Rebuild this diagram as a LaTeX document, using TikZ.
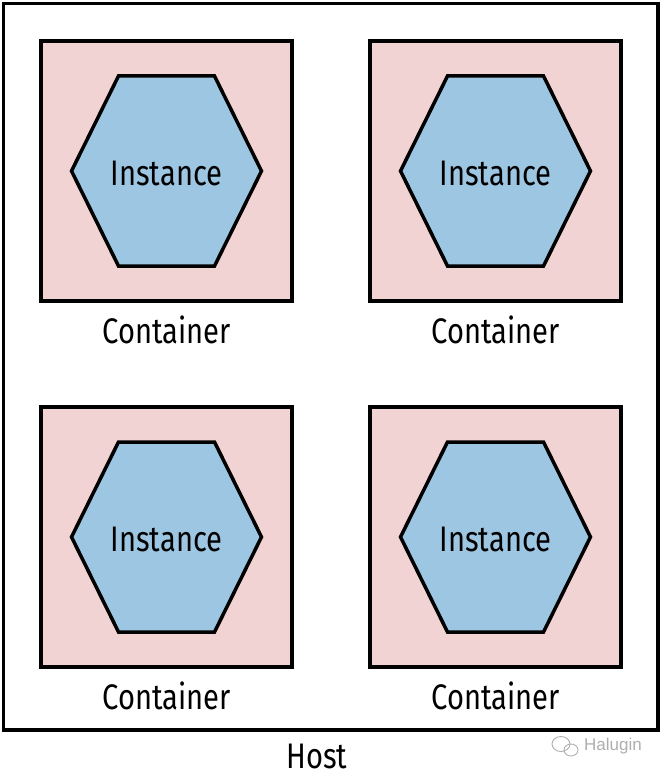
\documentclass[tikz,border=0pt]{standalone}
\usepackage{fontspec}
\setmainfont{Fira Sans}[FakeStretch=0.82]
\newfontfamily\wmfont{Liberation Sans}
\definecolor{cpink}{RGB}{242,211,212}
\definecolor{iblue}{RGB}{157,198,227}
\definecolor{wmgray}{RGB}{175,175,175}
\begin{document}
\begin{tikzpicture}[x=1pt,y=-1pt,
  hostbox/.style={draw=black,line width=3.5pt},
  contbox/.style={draw=black,fill=cpink,line width=3.5pt,minimum width=251pt,minimum height=260pt,inner sep=0pt},
  hexshape/.style={draw=black,fill=iblue,line width=3.5pt,line join=miter},
  bigtext/.style={font=\fontsize{35.5}{40}\selectfont,inner sep=0pt}]
\useasboundingbox (0,0) rectangle (663,778);
\fill[white] (0,0) rectangle (663,778);
\draw[hostbox] (3.5,3.5) rectangle (658,730);
\foreach \n/\cx/\cy in {a/166.5/171, b/495.5/171, c/166.5/537, d/495.5/537}{
  \node[contbox] (\n) at (\cx,\cy) {};
  \draw[hexshape] ([xshift=-95pt]\n.center) -- ([xshift=-48pt,yshift=95pt]\n.center) -- ([xshift=48pt,yshift=95pt]\n.center) -- ([xshift=95pt]\n.center) -- ([xshift=48pt,yshift=-95pt]\n.center) -- ([xshift=-48pt,yshift=-95pt]\n.center) -- cycle;
  \node[bigtext] (\n i) at ([yshift=-2pt]\n.center) {Instance};
  \node[bigtext,anchor=north] (\n l) at ([yshift=-13pt]\n.south) {Container};
}
\node[bigtext] (host) at (317,756) {Host};
\node[font=\wmfont\fontsize{17}{20}\selectfont,text=wmgray,anchor=west,inner sep=0pt] (wm) at (584,746) {Halugin};
\draw[wmgray,line width=0.9pt] (561,744) ellipse (9pt and 7.5pt);
\draw[wmgray,line width=0.9pt] (571,750) ellipse (7pt and 6pt);
\end{tikzpicture}
\end{document}
